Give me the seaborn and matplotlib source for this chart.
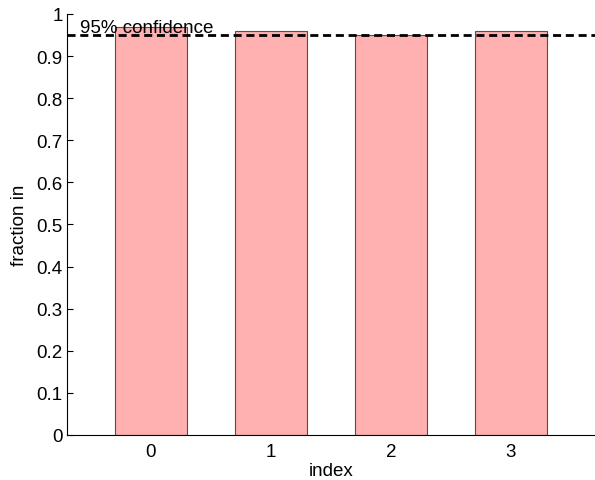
import matplotlib
matplotlib.use("Agg")
import matplotlib.pyplot as plt
import seaborn as sns
import pandas as pd
from matplotlib.ticker import FuncFormatter

# Coverage fraction per index
indices = ["0", "1", "2", "3"]
fractions = [0.97, 0.96, 0.95, 0.96]
confidence_level = 0.95
confidence_label = "95% confidence"

sns.set_style("white")
plt.rcParams["font.family"] = ["Liberation Sans", "DejaVu Sans"]
plt.rcParams["font.size"] = 13.5
for key in ("text.color", "axes.labelcolor", "xtick.color", "ytick.color"):
    plt.rcParams[key] = "black"

df = pd.DataFrame({"index": indices, "fraction in": fractions})

fig = plt.figure(figsize=(5.95, 4.81), dpi=100)
ax = fig.add_axes([0.1126, 0.0936, 0.8874, 0.8753])

sns.barplot(data=df, x="index", y="fraction in", color="#ffb0b0", saturation=1,
            width=0.6, edgecolor="#505050", linewidth=0.8, ax=ax)

ax.axhline(confidence_level, color="black", lw=2.0, linestyle=(0, (2.9, 1.7)), zorder=5)
ax.text(-0.59, confidence_level + 0.008, confidence_label, fontsize=13.5,
        va="baseline", ha="left")

ax.set_xlim(-0.7, 3.7)
ax.set_ylim(0, 1)
ax.set_yticks([i / 10 for i in range(11)])
ax.yaxis.set_major_formatter(FuncFormatter(lambda v, p: f"{v:g}"))
ax.tick_params(axis="y", direction="in", length=4, width=0.8, left=True, labelsize=13.5, pad=3)
ax.tick_params(axis="x", length=0, labelsize=13.5, pad=6)

sns.despine(ax=ax, top=True, right=True)
for s in ("left", "bottom"):
    ax.spines[s].set_color("black")
    ax.spines[s].set_linewidth(0.8)

ax.set_xlabel("index", fontsize=13.5, labelpad=1)
ax.set_ylabel("fraction in", fontsize=13.5, labelpad=6)

fig.savefig("out.png", dpi=100)
